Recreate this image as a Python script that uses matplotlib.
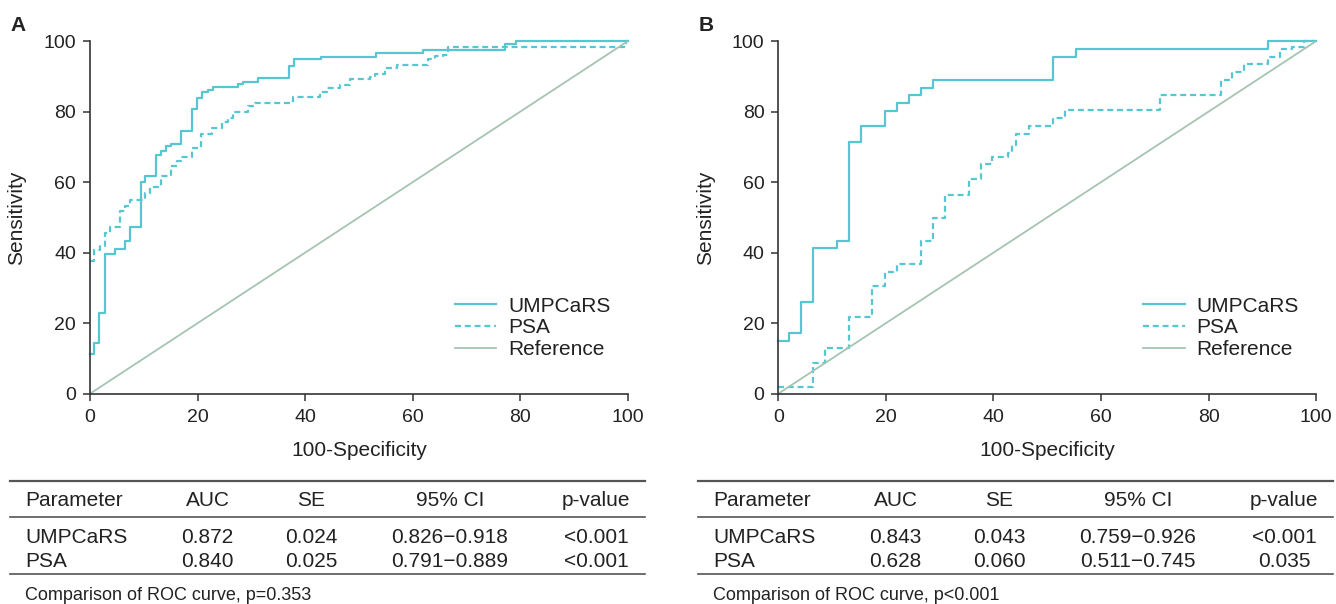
import matplotlib
matplotlib.use("Agg")
import matplotlib.pyplot as plt
from matplotlib.lines import Line2D

plt.rcParams['font.family'] = ['Liberation Sans', 'DejaVu Sans']

# Panel A curves (100-specificity, sensitivity)
umpcars_a_fpr = [0, 0.8, 1.7, 2.8, 4.6, 6.5, 7.4, 9.4, 10.3, 12.2, 13.2, 14.1, 15.1, 17.0, 18.9,
                 19.9, 20.9, 21.9, 22.8, 27.6, 28.5, 31.3, 36.9, 37.9, 42.9, 53.2, 61.9, 77.1, 79.1, 100]
umpcars_a_tpr = [11.2, 14.3, 22.8, 39.6, 41.1, 43.3, 47.2, 60.1, 61.8, 67.7, 68.7, 70.1, 70.9, 74.6, 80.7,
                 83.8, 85.4, 86.2, 86.9, 87.7, 88.4, 89.4, 93.0, 94.8, 95.5, 96.5, 97.4, 99.1, 100, 100]
psa_a_fpr = [0, 0.8, 1.9, 2.7, 3.7, 5.6, 6.5, 7.4, 10.2, 11.1, 13.2, 15.0, 16.1, 17.0, 18.9, 20.7,
             22.6, 24.5, 25.7, 26.6, 29.4, 30.6, 37.8, 42.8, 44.1, 46.4, 48.3, 52.0, 52.9, 54.8, 57.0,
             62.8, 64.1, 65.6, 66.5, 99.7, 100]
psa_a_tpr = [37.6, 40.8, 41.8, 45.5, 47.3, 51.9, 53.3, 54.8, 56.9, 58.6, 61.6, 64.7, 66.0, 67.1, 69.6, 73.7,
             75.3, 77.0, 78.3, 79.8, 81.6, 82.4, 84.0, 85.5, 86.8, 87.6, 89.3, 89.7, 90.6, 92.3, 93.1,
             95.0, 95.7, 95.9, 98.4, 100, 100]

# Panel B curves
umpcars_b_fpr = [0, 2.0, 4.3, 6.4, 11.0, 13.1, 15.4, 19.8, 22.1, 24.3, 26.5, 28.7, 51.0, 55.4, 91.0, 100]
umpcars_b_tpr = [15.0, 17.3, 25.9, 41.2, 43.4, 71.5, 76.0, 80.2, 82.4, 84.7, 86.8, 89.0, 95.4, 97.6, 100, 100]
psa_b_fpr = [0, 6.4, 8.7, 13.1, 17.5, 19.8, 22.1, 26.5, 28.7, 31.0, 35.5, 37.6, 39.8, 42.7, 43.5, 44.1,
             46.6, 51.1, 53.2, 71.0, 82.2, 84.3, 86.5, 91.0, 93.2, 95.5, 97.7, 100]
psa_b_tpr = [2.0, 8.6, 12.9, 21.7, 30.4, 34.6, 36.8, 43.4, 49.8, 56.4, 60.8, 65.1, 67.2, 68.2, 70.6, 73.7,
             76.0, 78.1, 80.4, 84.7, 89.0, 91.2, 93.4, 95.5, 97.6, 98.4, 100, 100]

ref_line = [0, 100]
series_names = ['UMPCaRS', 'PSA', 'Reference']
panel_letters = ['A', 'B']

table_header = ['Parameter', 'AUC', 'SE', '95% CI', 'p-value']
table_a = [['UMPCaRS', '0.872', '0.024', '0.826\u22120.918', '<0.001'],
           ['PSA', '0.840', '0.025', '0.791\u22120.889', '<0.001']]
table_b = [['UMPCaRS', '0.843', '0.043', '0.759\u22120.926', '<0.001'],
           ['PSA', '0.628', '0.060', '0.511\u22120.745', '0.035']]
notes = ['Comparison of ROC curve, p=0.353', 'Comparison of ROC curve, p<0.001']

CYAN = '#56c6d1'
REFC = '#a5c4b2'
DARK = '#333333'
W, H = 1336, 604

fig = plt.figure(figsize=(W / 100, H / 100), dpi=100)


def fx(px):
    return px / W


def fy(py):
    return 1 - py / H


def roc_panel(left, curves, letter):
    ax = fig.add_axes([fx(left), fy(393.7), 538 / W, 352.7 / H])
    (u_x, u_y), (p_x, p_y) = curves
    ax.plot(u_x, u_y, drawstyle='steps-post', color=CYAN, lw=1.6, label=series_names[0], clip_on=False)
    ax.plot(p_x, p_y, drawstyle='steps-post', color=CYAN, lw=1.6, dashes=(2.7, 1.7),
            label=series_names[1], clip_on=False)
    ax.plot(ref_line, ref_line, color=REFC, lw=1.3, label=series_names[2])
    ax.set_xlim(0, 100)
    ax.set_ylim(0, 100)
    ax.set_xticks(range(0, 101, 20))
    ax.set_yticks(range(0, 101, 20))
    for s in ['top', 'right']:
        ax.spines[s].set_visible(False)
    for s in ['left', 'bottom']:
        ax.spines[s].set_color(DARK)
        ax.spines[s].set_linewidth(1.2)
    ax.tick_params(axis='both', labelsize=14, length=5, width=1.1, color=DARK, labelcolor='#222222')
    ax.tick_params(axis='x', pad=6)
    ax.tick_params(axis='y', pad=5)
    ax.set_xlabel('100-Specificity', fontsize=15, color='#222222')
    ax.set_ylabel('Sensitivity', fontsize=15, color='#222222')
    ax.xaxis.set_label_coords(0.5, -0.134)
    ax.yaxis.set_label_coords(-0.118, 0.5)
    ax.legend(loc='upper left', bbox_to_anchor=(0.678, 0.275), frameon=False, fontsize=15,
              handlelength=2.0, handletextpad=0.55, labelspacing=0.13, borderpad=0, borderaxespad=0,
              labelcolor='#222222')
    fig.text(fx(left - 72), fy(25.5), letter, fontsize=15, fontweight='bold', ha='center', va='center',
             color='#222222')
    return ax


def table(x0, rows, note):
    # column anchors relative to panel offset
    cols = [(25, 'left'), (207.5, 'center'), (311, 'center'), (450, 'center'), (596, 'center')]
    fig.add_artist(Line2D([fx(x0 + 10), fx(x0 + 645)], [fy(481), fy(481)], color='#555555', lw=1.6))
    fig.add_artist(Line2D([fx(x0 + 10), fx(x0 + 645)], [fy(516.5), fy(516.5)], color='#555555', lw=1.2))
    fig.add_artist(Line2D([fx(x0 + 10), fx(x0 + 645)], [fy(574), fy(574)], color='#555555', lw=1.2))
    for (cx, ha), txt in zip(cols, table_header):
        fig.text(fx(x0 + cx), fy(506), txt, fontsize=15, ha=ha, va='baseline', color='#222222')
    for ry, row in zip([543, 567], rows):
        for (cx, ha), txt in zip(cols, row):
            fig.text(fx(x0 + cx), fy(ry), txt, fontsize=15, ha=ha, va='baseline', color='#222222')
    fig.text(fx(x0 + 25), fy(600), note, fontsize=13, ha='left', va='baseline', color='#222222')


roc_panel(90, [(umpcars_a_fpr, umpcars_a_tpr), (psa_a_fpr, psa_a_tpr)], panel_letters[0])
roc_panel(778.3, [(umpcars_b_fpr, umpcars_b_tpr), (psa_b_fpr, psa_b_tpr)], panel_letters[1])
table(0, table_a, notes[0])
table(688, table_b, notes[1])

fig.savefig('out.png', dpi=100)
